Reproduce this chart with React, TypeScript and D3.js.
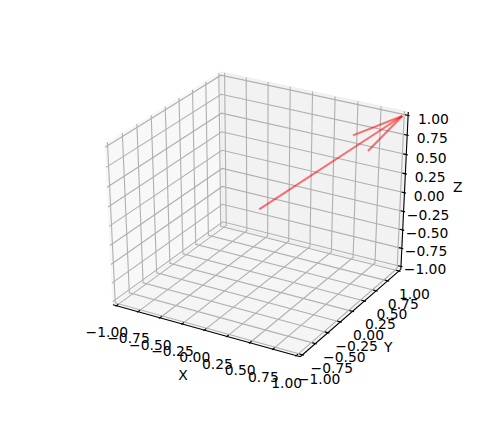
import React from "react";
import * as d3 from "d3";

const tickValues = [-1, -0.75, -0.5, -0.25, 0, 0.25, 0.5, 0.75, 1];
const tickLabels = ["−1.00", "−0.75", "−0.50", "−0.25", "0.00", "0.25", "0.50", "0.75", "1.00"];
const arrowShaft: V3[] = [[0, 0, 0], [1, 1, 1]];
const arrowHeadA: V3[] = [[1, 1, 1], [0.765, 0.765, 0.6]];
const arrowHeadB: V3[] = [[1, 1, 1], [0.655, 0.655, 0.82]];
const axisNames = ["X", "Y", "Z"];

type V3 = [number, number, number];

const W = 496, H = 424;
const ELEV = (30 * Math.PI) / 180, AZIM = (-60 * Math.PI) / 180, DIST = 10;
const PAD = 2 / 48, DELTA = 2 / 12;
const LO = -1 - PAD, HI = 1 + PAD;

const sx = d3.scaleLinear().domain([-0.095, 0.09]).range([62, 446]);
const sy = d3.scaleLinear().domain([-0.095, 0.09]).range([376.7, 50.7]);
const norm = d3.scaleLinear().domain([-1, 1]).range([0, 1]);

const eye: V3 = [
  0.5 + DIST * Math.cos(AZIM) * Math.cos(ELEV),
  0.5 + DIST * Math.sin(AZIM) * Math.cos(ELEV),
  0.5 + DIST * Math.sin(ELEV),
];
const sub = (a: V3, b: V3): V3 => [a[0] - b[0], a[1] - b[1], a[2] - b[2]];
const dot = (a: V3, b: V3) => a[0] * b[0] + a[1] * b[1] + a[2] * b[2];
const cross = (a: V3, b: V3): V3 => [a[1] * b[2] - a[2] * b[1], a[2] * b[0] - a[0] * b[2], a[0] * b[1] - a[1] * b[0]];
const unit = (a: V3): V3 => { const l = Math.hypot(...a); return [a[0] / l, a[1] / l, a[2] / l]; };
const n = unit(sub(eye, [0.5, 0.5, 0.5]));
const u = unit(cross([0, 0, 1], n));
const v = cross(n, u);

function project(p: V3): [number, number] {
  const w = sub([norm(p[0]), norm(p[1]), norm(p[2])], eye);
  const d = -dot(w, n);
  return [sx(dot(w, u) / d), sy(dot(w, v) / d)];
}
const lineGen = d3.line<V3>().x((d) => project(d)[0]).y((d) => project(d)[1]);
const closed = (pts: V3[]) => (lineGen(pts) ?? "") + "Z";

const LABEL_OFF = 0.18;
const FONT = "'DejaVu Sans', sans-serif";
const FS = 13.89;
const GRID = "#b0b0b0", LW = 1.11;

function Label({ p, t, shift = 0 }: { p: V3; t: string; shift?: number }) {
  const [x, y] = project(p);
  return <text x={x} y={y + shift} dy="0.36em" textAnchor="middle" fontFamily={FONT} fontSize={FS} fill="#000">{t}</text>;
}

export default function App() {
  const pane = (pts: V3[], c: string) => (
    <path d={closed(pts)} fill={c} fillOpacity={0.5} stroke={c} strokeOpacity={0.5} strokeWidth={1} />
  );
  return (
    <svg width={W} height={H} viewBox={`0 0 ${W} ${H}`} style={{ position: "absolute", left: 0, top: 0, background: "#fff" }}>
      {pane([[LO, LO, LO], [LO, HI, LO], [LO, HI, HI], [LO, LO, HI]], "#f2f2f2")}
      {pane([[LO, HI, LO], [HI, HI, LO], [HI, HI, HI], [LO, HI, HI]], "#e6e6e6")}
      {pane([[LO, LO, LO], [HI, LO, LO], [HI, HI, LO], [LO, HI, LO]], "#ececec")}
      <g fill="none" stroke={GRID} strokeWidth={LW}>
        {tickValues.map((t) => (
          <g key={t}>
            <path d={lineGen([[t, LO, LO], [t, HI, LO], [t, HI, HI]]) ?? ""} />
            <path d={lineGen([[HI, t, LO], [LO, t, LO], [LO, t, HI]]) ?? ""} />
            <path d={lineGen([[LO, LO, t], [LO, HI, t], [HI, HI, t]]) ?? ""} />
          </g>
        ))}
      </g>
      <g fill="none" stroke="#000" strokeWidth={LW}>
        <path d={lineGen([[LO, LO, LO], [HI, LO, LO]]) ?? ""} />
        <path d={lineGen([[HI, LO, LO], [HI, HI, LO]]) ?? ""} />
        <path d={lineGen([[HI, HI, LO], [HI, HI, HI]]) ?? ""} />
        {tickValues.map((t) => (
          <g key={t}>
            <path d={lineGen([[t, LO - 0.1 * DELTA, LO], [t, LO + 0.2 * DELTA, LO]]) ?? ""} />
            <path d={lineGen([[HI + 0.1 * DELTA, t, LO], [HI - 0.2 * DELTA, t, LO]]) ?? ""} />
            <path d={lineGen([[HI + 0.1 * DELTA, HI, t], [HI - 0.2 * DELTA, HI, t]]) ?? ""} />
          </g>
        ))}
      </g>
      <g fill="none" stroke="#ff0000" strokeOpacity={0.55} strokeWidth={2}>
        <path d={lineGen(arrowShaft) ?? ""} />
        <path d={lineGen(arrowHeadA) ?? ""} />
        <path d={lineGen(arrowHeadB) ?? ""} />
      </g>
      {tickValues.map((t, i) => (
        <g key={t}>
          <Label p={[t, LO - LABEL_OFF, LO - LABEL_OFF]} t={tickLabels[i]} shift={6} />
          <Label p={[HI + LABEL_OFF, t, LO - LABEL_OFF]} t={tickLabels[i]} shift={6} />
          <Label p={[HI + LABEL_OFF, HI + LABEL_OFF, t]} t={tickLabels[i]} shift={6} />
        </g>
      ))}
      <Label p={[0, LO - 0.4, LO - 0.37]} t={axisNames[0]} />
      <Label p={[HI + 0.4, 0, LO - 0.36]} t={axisNames[1]} />
      <Label p={[HI + 0.39, HI + 0.39, 0]} t={axisNames[2]} />
    </svg>
  );
}
